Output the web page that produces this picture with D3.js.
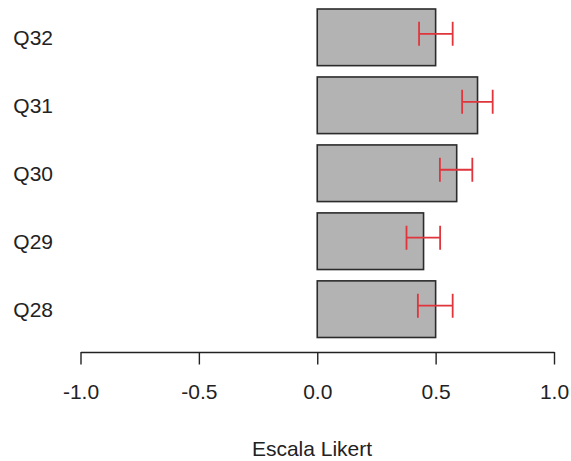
<!DOCTYPE html>
<html lang="en">
<head>
    <meta charset="UTF-8">
    <title>Escala Likert</title>
    <script src="https://d3js.org/d3.v7.min.js"></script>
    <style>
        body { margin: 0; background: #fff; }
        text { font-family: "Liberation Sans", Arial, sans-serif; fill: #222; }
    </style>
</head>
<body>
<div id="main"></div>
<script>
    // data (top to bottom)
    const categories = ["Q32", "Q31", "Q30", "Q29", "Q28"]
    const means = [0.500, 0.677, 0.589, 0.449, 0.500]
    const lower = [0.430, 0.612, 0.518, 0.377, 0.425]
    const upper = [0.572, 0.741, 0.655, 0.519, 0.572]
    const tickValues = [-1, -0.5, 0, 0.5, 1]
    const tickLabels = ["-1.0", "-0.5", "0.0", "0.5", "1.0"]

    const width = 571, height = 461
    const fontSize = "21px"

    let svg = d3.select("#main")
        .append("svg")
        .attr("width", width)
        .attr("height", height)

    let XScale = d3.scaleLinear()
        .domain([-1, 1])
        .range([80.5, 554])

    let YScale = d3.scaleBand()
        .domain(categories)
        .range([9, 337.5])
        .paddingInner(1 / 6)
        .paddingOuter(0)

    let capH = 12, errShift = -3.5
    let rows = categories.map((c, i) => ({cat: c, value: means[i], lo: lower[i], hi: upper[i]}))

    // bars
    svg.append("g").selectAll("rect")
        .data(rows)
        .enter()
        .append("rect")
        .attr("x", XScale(0))
        .attr("y", d => YScale(d.cat))
        .attr("width", d => XScale(d.value) - XScale(0))
        .attr("height", YScale.bandwidth())
        .attr("fill", "#b3b3b3")
        .attr("stroke", "#2b2b2b")
        .attr("stroke-width", 1.6)

    // error bars
    svg.append("g")
        .attr("stroke", "#e0353d")
        .attr("stroke-width", 1.8)
        .attr("fill", "none")
        .selectAll("path")
        .data(rows)
        .enter()
        .append("path")
        .attr("d", function (d) {
            let cy = YScale(d.cat) + YScale.bandwidth() / 2 + errShift
            let x0 = XScale(d.lo), x1 = XScale(d.hi)
            return `M ${x0},${cy - capH} V ${cy + capH} M ${x0},${cy} H ${x1} M ${x1},${cy - capH} V ${cy + capH}`
        })

    // category labels
    svg.append("g").selectAll("text")
        .data(rows)
        .enter()
        .append("text")
        .attr("x", 53)
        .attr("y", d => YScale(d.cat) + YScale.bandwidth() / 2)
        .attr("dy", "0.36em")
        .attr("text-anchor", "end")
        .style("font-size", fontSize)
        .text(d => d.cat)

    // x axis
    let x_axis = d3.axisBottom(XScale)
        .tickValues(tickValues)
        .tickFormat((d, i) => tickLabels[i])
        .tickSize(12.5)
        .tickSizeOuter(0)
        .tickPadding(19.6)

    let gx = svg.append("g")
        .attr("transform", "translate(0, 352)")
        .call(x_axis)
    gx.selectAll("path, line").attr("stroke", "#222").attr("stroke-width", 1.4)
    gx.selectAll("text").style("font-size", fontSize).style("font-family", "Liberation Sans, Arial, sans-serif").attr("fill", "#222")

    svg.append("text")
        .attr("x", 312)
        .attr("y", 456)
        .attr("text-anchor", "middle")
        .style("font-size", fontSize)
        .text("Escala Likert")
</script>
</body>
</html>
